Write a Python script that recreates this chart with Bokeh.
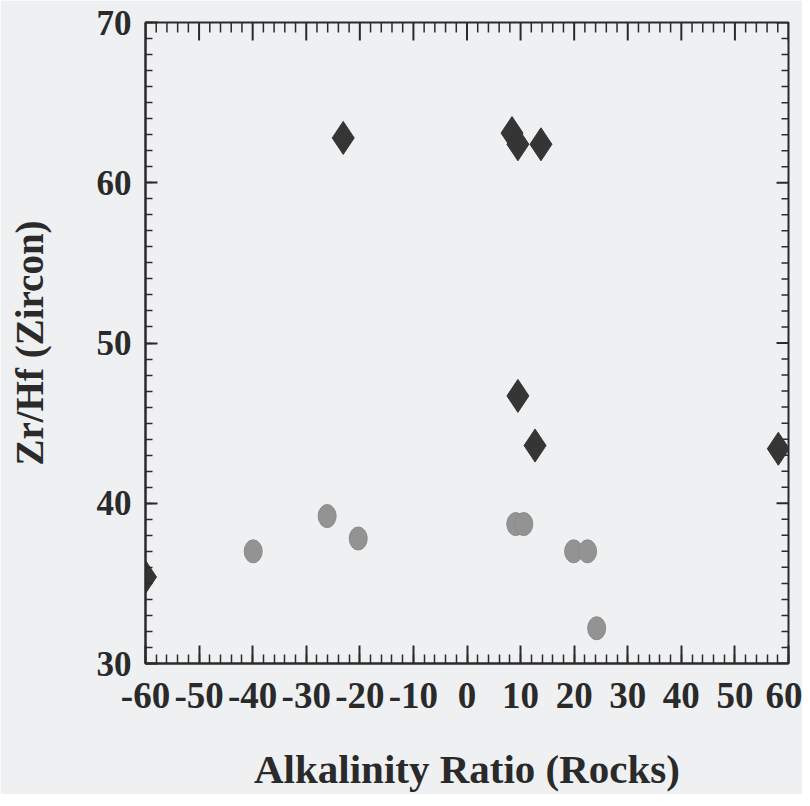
import numpy as np
from bokeh.plotting import figure
from bokeh.models import Range1d, SingleIntervalTicker, ColumnDataSource
from bokeh.embed import file_html
from bokeh.resources import INLINE

# Zircon data (diamonds) and rock data (grey dots)
diamond_x = [-60.0, -23.1, 8.4, 9.5, 13.8, 9.5, 12.7, 58.1]
diamond_y = [35.4, 62.8, 63.1, 62.4, 62.4, 46.7, 43.6, 43.4]
circle_x = [-39.9, -26.1, -20.3, 9.1, 10.6, 19.9, 22.5, 24.2]
circle_y = [37.0, 39.2, 37.8, 38.7, 38.7, 37.0, 37.0, 32.2]

x_ticks = [-60, -50, -40, -30, -20, -10, 0, 10, 20, 30, 40, 50, 60]
y_ticks = [30, 40, 50, 60, 70]

x_min, x_max = -60, 60
y_min, y_max = 30, 70

FONT = "Liberation Serif"
INK = "#2a2a2a"
BG = "#eef0f2"

W, H = 802, 794
BL, BR, BT = 145, 14, 22

p = figure(width=W, height=H, output_backend="svg", toolbar_location=None,
           x_range=Range1d(x_min, x_max), y_range=Range1d(y_min, y_max),
           x_axis_label="Alkalinity Ratio (Rocks)", y_axis_label="Zr/Hf (Zircon)",
           min_border_left=BL, min_border_right=BR, min_border_top=BT, min_border_bottom=100)
p.background_fill_color = BG
p.border_fill_color = BG
p.outline_line_color = INK
p.outline_line_width = 2
p.xgrid.visible = False
p.ygrid.visible = False

def style(ax, interval, nminor, major_in, minor_in, size):
    ax.ticker = SingleIntervalTicker(interval=interval, num_minor_ticks=nminor)
    ax.axis_line_color = INK
    ax.axis_line_width = 2
    ax.major_tick_line_color = INK
    ax.minor_tick_line_color = INK
    ax.major_tick_line_width = 2
    ax.minor_tick_line_width = 1.5
    ax.major_tick_in = major_in
    ax.major_tick_out = 0
    ax.minor_tick_in = minor_in
    ax.minor_tick_out = 0
    ax.major_label_text_font = FONT
    ax.major_label_text_font_style = "bold"
    ax.major_label_text_font_size = size
    ax.major_label_text_color = INK

xa = p.xaxis[0]
style(xa, 10, 5, 18, 9, "37px")
xa.major_label_overrides = {t: str(t) for t in x_ticks}
xa.major_label_standoff = 19
xa.axis_label_text_font = FONT
xa.axis_label_text_font_style = "bold"
xa.axis_label_text_font_size = "41px"
xa.axis_label_text_color = INK
xa.axis_label_standoff = 35

ya = p.yaxis[0]
style(ya, 10, 10, 12, 7, "35px")
ya.major_label_overrides = {t: str(t) for t in y_ticks}
ya.major_label_standoff = 14
ya.axis_label_text_font = FONT
ya.axis_label_text_font_style = "bold"
ya.axis_label_text_font_size = "39px"
ya.axis_label_text_color = INK
ya.axis_label_standoff = 43

# mirrored inward ticks on the top and right frame edges
frame_w = W - BL - BR
frame_h = 641.0
px_x = (x_max - x_min) / frame_w   # data units per pixel
px_y = (y_max - y_min) / frame_h

top_major = np.array(x_ticks, dtype=float)
top_minor = np.arange(x_min, x_max + 0.001, 2.0)
top_minor = top_minor[np.mod(top_minor, 10) != 0]
p.segment(top_major, y_max, top_major, y_max - 18 * px_y, line_color=INK, line_width=2)
p.segment(top_minor, y_max, top_minor, y_max - 10 * px_y, line_color=INK, line_width=1.5)

right_major = np.array(y_ticks, dtype=float)
right_minor = np.arange(y_min, y_max + 0.001, 1.0)
right_minor = right_minor[np.mod(right_minor, 10) != 0]
p.segment(x_max, right_major, x_max - 12 * px_x, right_major, line_color=INK, line_width=2)
p.segment(x_max, right_minor, x_max - 7 * px_x, right_minor, line_color=INK, line_width=1.5)

src_c = ColumnDataSource(dict(x=circle_x, y=circle_y))
p.ellipse("x", "y", width=18, height=23, width_units="screen", height_units="screen",
          source=src_c, fill_color="#939393", line_color="#8a8a8a", line_width=1)

src_d = ColumnDataSource(dict(x=diamond_x, y=diamond_y))
p.scatter("x", "y", marker="diamond", size=33, source=src_d,
          fill_color="#353535", line_color="#353535", line_width=1)

open("out.html", "w").write(file_html(p, INLINE))
